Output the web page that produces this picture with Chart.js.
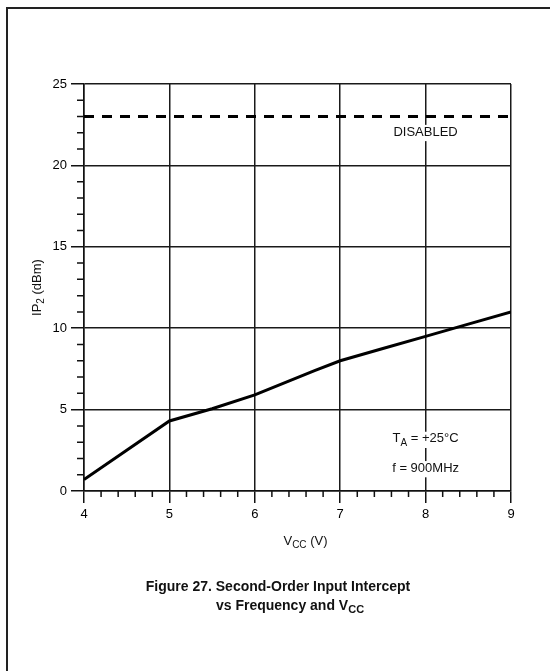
<!DOCTYPE html>
<html>
<head>
<meta charset="utf-8">
<script src="https://cdn.jsdelivr.net/npm/chart.js@4/dist/chart.umd.min.js"></script>
<style>
  html, body { margin: 0; padding: 0; background: #fff; }
  canvas { display: block; }
</style>
</head>
<body>
<canvas id="chart" width="550" height="671"></canvas>
<script>
// Second-order input intercept (IP2) versus supply voltage
const vccVolts = [4, 4.5, 5, 5.5, 6, 6.7, 7, 7.5, 8, 8.5, 9];
const ip2Dbm   = [0.7, 2.5, 4.3, 5.05, 5.9, 7.4, 8.0, 8.75, 9.5, 10.25, 11.0];

// Level when the device is disabled
const disabledVolts = [4, 9];
const disabledDbm   = [23, 23];

// Axis ranges and tick steps
const xRange = [4, 9];
const yRange = [0, 25];
const xMajorStep = 1, xMinorStep = 0.2;
const yMajorStep = 5, yMinorStep = 1;

const FONT = '"Liberation Sans", Arial, Helvetica, sans-serif';
const INK = '#111';

function toPoints(xs, ys) {
  return xs.map((x, i) => ({ x: x, y: ys[i] }));
}

// Draws text made of normal and subscript runs.
function drawRich(ctx, parts, x, y, size, weight, align) {
  const subSize = Math.round(size * 0.8);
  const widths = parts.map(p => {
    ctx.font = `${weight} ${p[1] ? subSize : size}px ${FONT}`;
    return ctx.measureText(p[0]).width;
  });
  const total = widths.reduce((a, b) => a + b, 0);
  let cx = align === 'center' ? x - total / 2 : (align === 'right' ? x - total : x);
  ctx.textAlign = 'left';
  ctx.textBaseline = 'middle';
  parts.forEach((p, i) => {
    ctx.font = `${weight} ${p[1] ? subSize : size}px ${FONT}`;
    ctx.fillText(p[0], cx, p[1] ? y + size * 0.3 : y);
    cx += widths[i];
  });
  return total;
}

function richWidth(ctx, parts, size, weight) {
  const subSize = Math.round(size * 0.8);
  return parts.reduce((acc, p) => {
    ctx.font = `${weight} ${p[1] ? subSize : size}px ${FONT}`;
    return acc + ctx.measureText(p[0]).width;
  }, 0);
}

// Label inside the plot with a white patch that breaks the grid line behind it
function boxedLabel(ctx, parts, x, y, size) {
  const w = richWidth(ctx, parts, size, 'normal');
  ctx.fillStyle = '#fff';
  ctx.fillRect(x - w / 2 - 2, y - size * 0.55, w + 4, size * 1.25);
  ctx.fillStyle = INK;
  drawRich(ctx, parts, x, y, size, 'normal', 'center');
}

const decorPlugin = {
  id: 'decor',
  beforeDraw(chart) {
    const ctx = chart.ctx;
    ctx.save();
    ctx.fillStyle = '#fff';
    ctx.fillRect(0, 0, chart.width, chart.height);
    ctx.restore();
  },
  afterDraw(chart) {
    const ctx = chart.ctx;
    const xs = chart.scales.x, ys = chart.scales.y;
    const area = chart.chartArea;
    ctx.save();

    // page frame
    ctx.strokeStyle = '#222';
    ctx.lineWidth = 2;
    ctx.beginPath();
    ctx.moveTo(7, chart.height);
    ctx.lineTo(7, 8);
    ctx.lineTo(chart.width, 8);
    ctx.stroke();

    // minor tick marks
    ctx.strokeStyle = INK;
    ctx.lineWidth = 1.5;
    ctx.beginPath();
    for (let v = xRange[0]; v <= xRange[1] + 1e-9; v += xMinorStep) {
      const r = Math.round(v * 10) / 10;
      if (Math.abs(r / xMajorStep - Math.round(r / xMajorStep)) < 1e-6) continue;
      const px = xs.getPixelForValue(r);
      ctx.moveTo(px, area.bottom);
      ctx.lineTo(px, area.bottom + 6);
    }
    for (let v = yRange[0]; v <= yRange[1]; v += yMinorStep) {
      if (v % yMajorStep === 0) continue;
      const py = ys.getPixelForValue(v);
      ctx.moveTo(area.left, py);
      ctx.lineTo(area.left - 7, py);
    }
    ctx.stroke();

    // in-plot labels
    const lx = xs.getPixelForValue(8);
    boxedLabel(ctx, [['DISABLED', false]], lx, ys.getPixelForValue(22.05), 13);
    boxedLabel(ctx, [['T', false], ['A', true], [' = +25°C', false]], lx, ys.getPixelForValue(3.2), 13);
    boxedLabel(ctx, [['f = 900MHz', false]], lx, ys.getPixelForValue(1.4), 13);

    // axis titles
    ctx.fillStyle = INK;
    drawRich(ctx, [['V', false], ['CC', true], [' (V)', false]],
      (area.left + area.right) / 2 + 8, 541, 13, 'normal', 'center');
    ctx.save();
    ctx.translate(37, (area.top + area.bottom) / 2);
    ctx.rotate(-Math.PI / 2);
    drawRich(ctx, [['IP', false], ['2', true], [' (dBm)', false]], 0, 0, 13, 'normal', 'center');
    ctx.restore();

    // caption
    drawRich(ctx, [['Figure 27. Second-Order Input Intercept', false]], 278, 587, 14, 'bold', 'center');
    drawRich(ctx, [['vs Frequency and V', false], ['CC', true]], 290, 606, 14, 'bold', 'center');

    ctx.restore();
  }
};

new Chart(document.getElementById('chart'), {
  type: 'line',
  data: {
    datasets: [
      {
        data: toPoints(vccVolts, ip2Dbm),
        borderColor: '#000',
        borderWidth: 3,
        pointRadius: 0,
        tension: 0,
        fill: false
      },
      {
        data: toPoints(disabledVolts, disabledDbm),
        borderColor: '#000',
        borderWidth: 3,
        borderDash: [10, 8],
        pointRadius: 0,
        fill: false
      }
    ]
  },
  options: {
    responsive: false,
    animation: false,
    devicePixelRatio: 1,
    layout: { padding: { left: 0, top: 84, right: 39, bottom: 0 } },
    plugins: { legend: { display: false }, tooltip: { enabled: false } },
    scales: {
      x: {
        type: 'linear',
        min: xRange[0],
        max: xRange[1],
        ticks: { stepSize: xMajorStep, color: '#000', font: { family: FONT, size: 13 }, padding: 4, maxRotation: 0 },
        grid: { color: '#1a1a1a', lineWidth: 1.5, tickLength: 12, tickColor: INK, tickWidth: 1.5 },
        border: { color: INK, width: 1.5 },
        afterFit(s) { s.height = 180; }
      },
      y: {
        type: 'linear',
        min: yRange[0],
        max: yRange[1],
        ticks: { stepSize: yMajorStep, color: '#000', font: { family: FONT, size: 13 }, padding: 4 },
        grid: { color: '#1a1a1a', lineWidth: 1.5, tickLength: 13, tickColor: INK, tickWidth: 1.5 },
        border: { color: INK, width: 1.5 },
        afterFit(s) { s.width = 84; }
      }
    }
  },
  plugins: [decorPlugin]
});
</script>
</body>
</html>
